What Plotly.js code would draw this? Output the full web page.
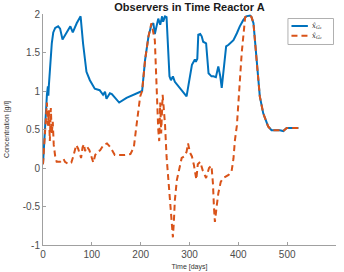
<!DOCTYPE html>
<html>
<head>
<meta charset="utf-8">
<script src="https://cdn.plot.ly/plotly-3.0.1.min.js"></script>
<style>
  html, body { margin: 0; padding: 0; background: #fff; }
  #chart { width: 344px; height: 272px; }
</style>
</head>
<body>
<div id="chart"></div>
<script>
// Observer estimates for reactor A (time in days, concentration in g/l)
const timeG1 = [0, 3, 6, 8, 10, 11, 12, 15, 18, 21, 25, 31, 35, 40, 47, 56, 61, 69, 77, 82,
  89, 96, 106, 116, 123, 127, 130, 137, 141, 149, 156, 171, 185, 199, 203, 209, 216, 222, 226, 229,
  236, 240, 244, 246, 250, 253, 259, 262, 266, 270, 281, 291, 294, 298, 302, 305, 311, 313, 316, 318,
  322, 325, 328, 334, 339, 345, 349, 354, 359, 363, 366, 375, 380, 390, 397, 403, 410, 416, 424, 427,
  431, 438, 444, 451, 461, 468, 485, 492, 499, 506, 523];
const xhatG1 = [0.05, 0.45, 0.80, 0.95, 1.06, 0.94, 1.07, 1.40, 1.62, 1.76, 1.82, 1.84, 1.81, 1.67, 1.75, 1.84, 1.76, 1.88, 1.97, 1.62,
  1.25, 1.14, 1.03, 1.01, 0.95, 0.99, 0.90, 0.97, 0.96, 0.90, 0.85, 0.91, 0.95, 0.98, 1.00, 1.40, 1.71, 1.86, 1.88, 1.74,
  1.94, 1.86, 1.97, 1.90, 1.97, 1.96, 1.19, 1.14, 1.19, 1.12, 1.03, 0.95, 0.93, 1.08, 1.22, 1.34, 1.41, 1.38, 1.42, 1.73,
  1.74, 1.71, 1.64, 1.62, 1.23, 1.19, 1.19, 1.18, 1.32, 1.19, 1.04, 1.58, 1.60, 1.66, 1.75, 1.84, 1.92, 1.97, 1.98, 1.96,
  1.88, 1.36, 0.93, 0.71, 0.54, 0.49, 0.49, 0.48, 0.52, 0.52, 0.52];

const timeG2 = [0, 3, 6, 8, 10, 12, 14, 16, 18, 20, 22, 25, 28, 35, 42, 45, 52, 58, 62, 68,
  72, 75, 78, 81, 84, 86, 90, 95, 100, 103, 107, 111, 117, 124, 131, 138, 147, 158, 168, 179,
  186, 192, 199, 203, 209, 216, 222, 229, 233, 236, 238, 240, 242, 245, 247, 250, 253, 257, 260, 264,
  266, 268, 270, 274, 281, 284, 289, 294, 297, 301, 305, 309, 314, 317, 322, 327, 334, 340, 345, 348,
  350, 352, 356, 359, 364, 369, 380, 386, 390, 393, 397, 400, 407, 414, 424, 427, 431, 438, 444, 451,
  461, 468, 485, 492, 499, 506, 523];
const xhatG2 = [0.05, 0.40, 0.75, 0.85, 0.55, 0.75, 0.35, 0.78, 0.45, 0.60, 0.30, 0.15, 0.08, 0.08, 0.12, 0.08, 0.05, 0.07, 0.15, 0.30,
  0.25, 0.20, 0.13, 0.27, 0.31, 0.22, 0.28, 0.23, 0.13, 0.07, 0.17, 0.21, 0.23, 0.30, 0.32, 0.27, 0.17, 0.17, 0.17, 0.18,
  0.27, 0.58, 0.93, 1.00, 1.40, 1.71, 1.88, 1.66, 0.95, 0.50, 0.35, 0.85, 0.45, 0.95, 0.80, 0.55, 0.15, -0.20, -0.46, -0.72,
  -0.90, -0.70, -0.42, -0.16, 0.07, 0.13, 0.15, 0.21, 0.32, 0.20, 0.15, 0.04, -0.15, 0.05, 0.08, -0.03, -0.13, 0.00, 0.03, -0.20,
  -0.50, -0.70, -0.48, -0.33, -0.18, -0.13, -0.09, -0.05, 0.12, 0.36, 0.55, 0.85, 1.50, 1.96, 1.98, 1.96, 1.88, 1.36, 0.93, 0.71,
  0.54, 0.49, 0.49, 0.48, 0.52, 0.52, 0.52];

const xTicks = [0, 100, 200, 300, 400, 500, 600];
const yTicks = [-1, -0.5, 0, 0.5, 1, 1.5, 2];
const yTickText = ['-1', '-0.5', '0', '0.5', '1', '1.5', '2'];
const seriesNames = ['<i>x̂<sub>G₁</sub></i>', '<i>x̂<sub>G₂</sub></i>'];

const blue = '#0072BD';
const orange = '#D95319';

const traces = [
  { x: timeG1, y: xhatG1, mode: 'lines', name: seriesNames[0],
    line: { color: blue, width: 2 } },
  { x: timeG2, y: xhatG2, mode: 'lines', name: seriesNames[1],
    line: { color: orange, width: 2, dash: '6px,4px' } }
];

// hand-placed legend box in paper coordinates
const legendShapes = [
  { type: 'rect', xref: 'paper', yref: 'paper', x0: 0.836, x1: 0.9915, y0: 0.868, y1: 0.9805,
    line: { color: '#b0b0b0', width: 1 }, fillcolor: '#ffffff' },
  { type: 'line', xref: 'paper', yref: 'paper', x0: 0.848, x1: 0.904, y0: 0.948, y1: 0.948,
    line: { color: blue, width: 2 } },
  { type: 'line', xref: 'paper', yref: 'paper', x0: 0.848, x1: 0.904, y0: 0.906, y1: 0.906,
    line: { color: orange, width: 2, dash: '6px,4px' } }
];
const legendLabels = seriesNames.map((txt, i) => ({
  xref: 'paper', yref: 'paper', x: 0.911, y: i === 0 ? 0.948 : 0.906,
  xanchor: 'left', yanchor: 'middle', showarrow: false, text: txt,
  font: { family: 'DejaVu Serif, Liberation Serif, serif', size: 7, color: '#222' }
}));

const axisCommon = {
  showgrid: false, zeroline: false, showline: true, linecolor: '#a0a0a0', linewidth: 1,
  ticks: 'inside', ticklen: 3, tickcolor: '#a0a0a0', mirror: false,
  tickfont: { family: 'Liberation Sans, Arial, sans-serif', size: 10, color: '#4d4d4d' }
};

const layout = {
  width: 344, height: 272,
  margin: { l: 43, r: 8, t: 14, b: 27 },
  paper_bgcolor: '#ffffff', plot_bgcolor: '#ffffff',
  showlegend: false,
  title: {
    text: '<b>Observers in Time Reactor A</b>',
    font: { family: 'Liberation Sans, Arial, sans-serif', size: 11, color: '#1a1a1a' },
    xref: 'paper', x: 0.5, xanchor: 'center',
    yref: 'container', y: 0.972, yanchor: 'middle'
  },
  xaxis: Object.assign({}, axisCommon, {
    range: [0, 600], tickvals: xTicks, ticktext: xTicks.map(String),
    title: { text: 'Time [days]', standoff: 5,
      font: { family: 'Liberation Sans, Arial, sans-serif', size: 7, color: '#333' } }
  }),
  yaxis: Object.assign({}, axisCommon, {
    range: [-1, 2], tickvals: yTicks, ticktext: yTickText,
    title: { text: 'Concentration [g/l]', standoff: 12,
      font: { family: 'Liberation Sans, Arial, sans-serif', size: 7, color: '#333' } }
  }),
  shapes: legendShapes,
  annotations: legendLabels
};

Plotly.newPlot('chart', traces, layout, { staticPlot: true, displayModeBar: false });
</script>
</body>
</html>
